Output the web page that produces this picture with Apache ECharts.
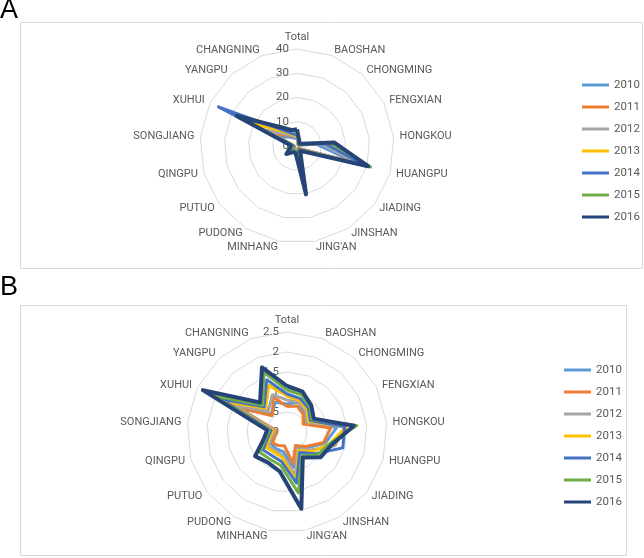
<!DOCTYPE html>
<html><head><meta charset="utf-8">
<script src="https://cdn.jsdelivr.net/npm/echarts@6/dist/echarts.min.js"></script>
<style>html,body{margin:0;padding:0;background:#fff}#c{width:644px;height:558px}</style>
</head><body><div id="c"></div>
<script>
const categories = ['Total','BAOSHAN','CHONGMING','FENGXIAN','HONGKOU','HUANGPU','JIADING','JINSHAN',"JING'AN",'MINHANG','PUDONG','PUTUO','QINGPU','SONGJIANG','XUHUI','YANGPU','CHANGNING'];
const years = ['2010','2011','2012','2013','2014','2015','2016'];
const colors = ['#5B9BD5','#ED7D31','#A5A5A5','#FFC000','#4472C4','#70AD47','#264478'];

// Panel A values (category order above)
const a2010 = [3.0, 1.2, 0.6, 1.0, 8.0, 25.0, 2.0, 1.0, 4.5, 1.5, 1.5, 2.0, 1.0, 1.2, 9.0, 5.0, 3.5];
const a2011 = [3.2, 1.3, 0.7, 1.0, 11.0, 26.0, 2.2, 1.0, 5.0, 1.6, 1.6, 2.2, 1.0, 1.3, 12.0, 6.0, 4.5];
const a2012 = [3.5, 1.4, 0.8, 1.2, 10.0, 27.0, 2.5, 1.2, 6.0, 1.8, 1.8, 2.5, 1.2, 1.4, 15.0, 6.5, 4.5];
const a2013 = [4.0, 1.6, 0.9, 1.3, 13.0, 28.5, 2.8, 1.4, 8.0, 2.0, 2.0, 2.8, 1.4, 1.6, 22.0, 8.0, 5.0];
const a2014 = [4.5, 1.8, 1.0, 1.4, 11.5, 29.0, 3.0, 1.5, 7.0, 2.2, 2.2, 3.0, 1.5, 1.6, 36.2, 9.0, 5.5];
const a2015 = [5.5, 2.0, 1.2, 1.6, 14.0, 31.6, 3.5, 2.0, 10.2, 2.5, 2.5, 3.5, 2.0, 2.0, 25.0, 11.0, 7.5];
const a2016 = [6.9, 2.5, 1.5, 2.0, 15.5, 30.5, 4.0, 2.5, 20.3, 3.0, 3.0, 5.5, 3.0, 2.5, 27.8, 10.6, 7.0];

// Panel B values
const b2010 = [0.7, 0.8, 0.65, 0.5, 1.25, 1.0, 0.65, 0.45, 0.9, 0.5, 0.5, 0.5, 0.35, 0.3, 1.3, 0.6, 0.8];
const b2011 = [0.64, 0.7, 0.6, 0.45, 1.1, 0.95, 0.6, 0.4, 0.8, 0.35, 0.4, 0.45, 0.3, 0.25, 1.4, 0.55, 0.94];
const b2012 = [0.8, 0.8, 0.7, 0.55, 1.45, 1.25, 0.75, 0.5, 1.1, 0.6, 0.55, 0.6, 0.4, 0.3, 1.5, 0.7, 1.0];
const b2013 = [0.9, 0.85, 0.75, 0.6, 1.5, 1.1, 0.8, 0.55, 1.25, 0.65, 0.6, 0.65, 0.45, 0.35, 1.7, 0.8, 1.25];
const b2014 = [0.95, 0.9, 0.8, 0.65, 1.45, 1.45, 0.9, 0.6, 1.3, 0.75, 0.7, 0.75, 0.5, 0.4, 1.85, 0.85, 1.4];
const b2015 = [1.05, 1.0, 0.85, 0.7, 1.75, 1.1, 0.95, 0.7, 1.55, 0.85, 0.8, 0.85, 0.55, 0.45, 2.05, 0.9, 1.6];
const b2016 = [1.15, 1.08, 0.9, 0.75, 1.68, 1.16, 1.05, 0.75, 1.95, 1.0, 0.9, 1.0, 0.6, 0.5, 2.35, 1.0, 1.73];

const seriesA = [a2010, a2011, a2012, a2013, a2014, a2015, a2016];
const seriesB = [b2010, b2011, b2012, b2013, b2014, b2015, b2016];

const FONT = 'Roboto, "Liberation Sans", sans-serif';
const TXT = '#595959';

// ECharts lays indicators out counter-clockwise; reorder so they run clockwise from the top.
const order = [0].concat(categories.slice(1).map((_, i) => categories.length - 1 - i));

function makeRadar(center, radius, max, split) {
  return {
    center: center, radius: radius, startAngle: 90, shape: 'polygon', splitNumber: split,
    indicator: order.map((ci, k) => ({
      name: categories[ci], min: 0, max: max,
      axisLabel: k === 0 ? {show: true, color: TXT, fontSize: 11.5, fontFamily: FONT, margin: 8} : {show: false}
    })),
    axisName: {color: TXT, fontSize: 11, fontFamily: FONT},
    nameGap: 6,
    axisLine: {show: false}, axisTick: {show: false},
    axisLabel: {show: false},
    splitLine: {lineStyle: {color: '#D9D9D9', width: 1}},
    splitArea: {show: false}
  };
}

const series = [];
[seriesA, seriesB].forEach((set, ri) => {
  set.forEach((vals, yi) => {
    series.push({
      type: 'radar', radarIndex: ri, name: years[yi], symbol: 'none',
      itemStyle: {color: colors[yi]},
      lineStyle: {color: colors[yi], width: yi === 6 ? 4 : 3},
      emphasis: {disabled: true},
      data: [{name: years[yi], value: order.map(ci => vals[ci])}]
    });
  });
});

function legend(left, top) {
  return {
    orient: 'vertical', left: left, top: top, data: years,
    icon: 'rect', itemWidth: 27, itemHeight: 3, itemGap: 8,
    textStyle: {color: TXT, fontSize: 11.5, fontFamily: FONT, lineHeight: 14},
    selectedMode: false
  };
}

const chart = echarts.init(document.getElementById('c'), null, {renderer: 'canvas'});
chart.setOption({
  animation: false,
  color: colors,
  radar: [makeRadar([297, 146], 97, 40, 4), makeRadar([287, 432], 100, 2.5, 5)],
  legend: [legend(577, 73), legend(559, 358)],
  graphic: [
    {type: 'rect', shape: {x: 20.5, y: 22.5, width: 622, height: 246}, style: {fill: 'none', stroke: '#D9D9D9', lineWidth: 1}, silent: true, z: -1},
    {type: 'rect', shape: {x: 20.5, y: 305.5, width: 606, height: 250}, style: {fill: 'none', stroke: '#D9D9D9', lineWidth: 1}, silent: true, z: -1},
    {type: 'text', left: 0, top: -3, style: {text: 'A', fill: '#000', fontSize: 27, fontFamily: '"Liberation Sans", sans-serif'}},
    {type: 'text', left: 0, top: 274, style: {text: 'B', fill: '#000', fontSize: 27, fontFamily: '"Liberation Sans", sans-serif'}}
  ],
  series: series
});
</script>
</body></html>
